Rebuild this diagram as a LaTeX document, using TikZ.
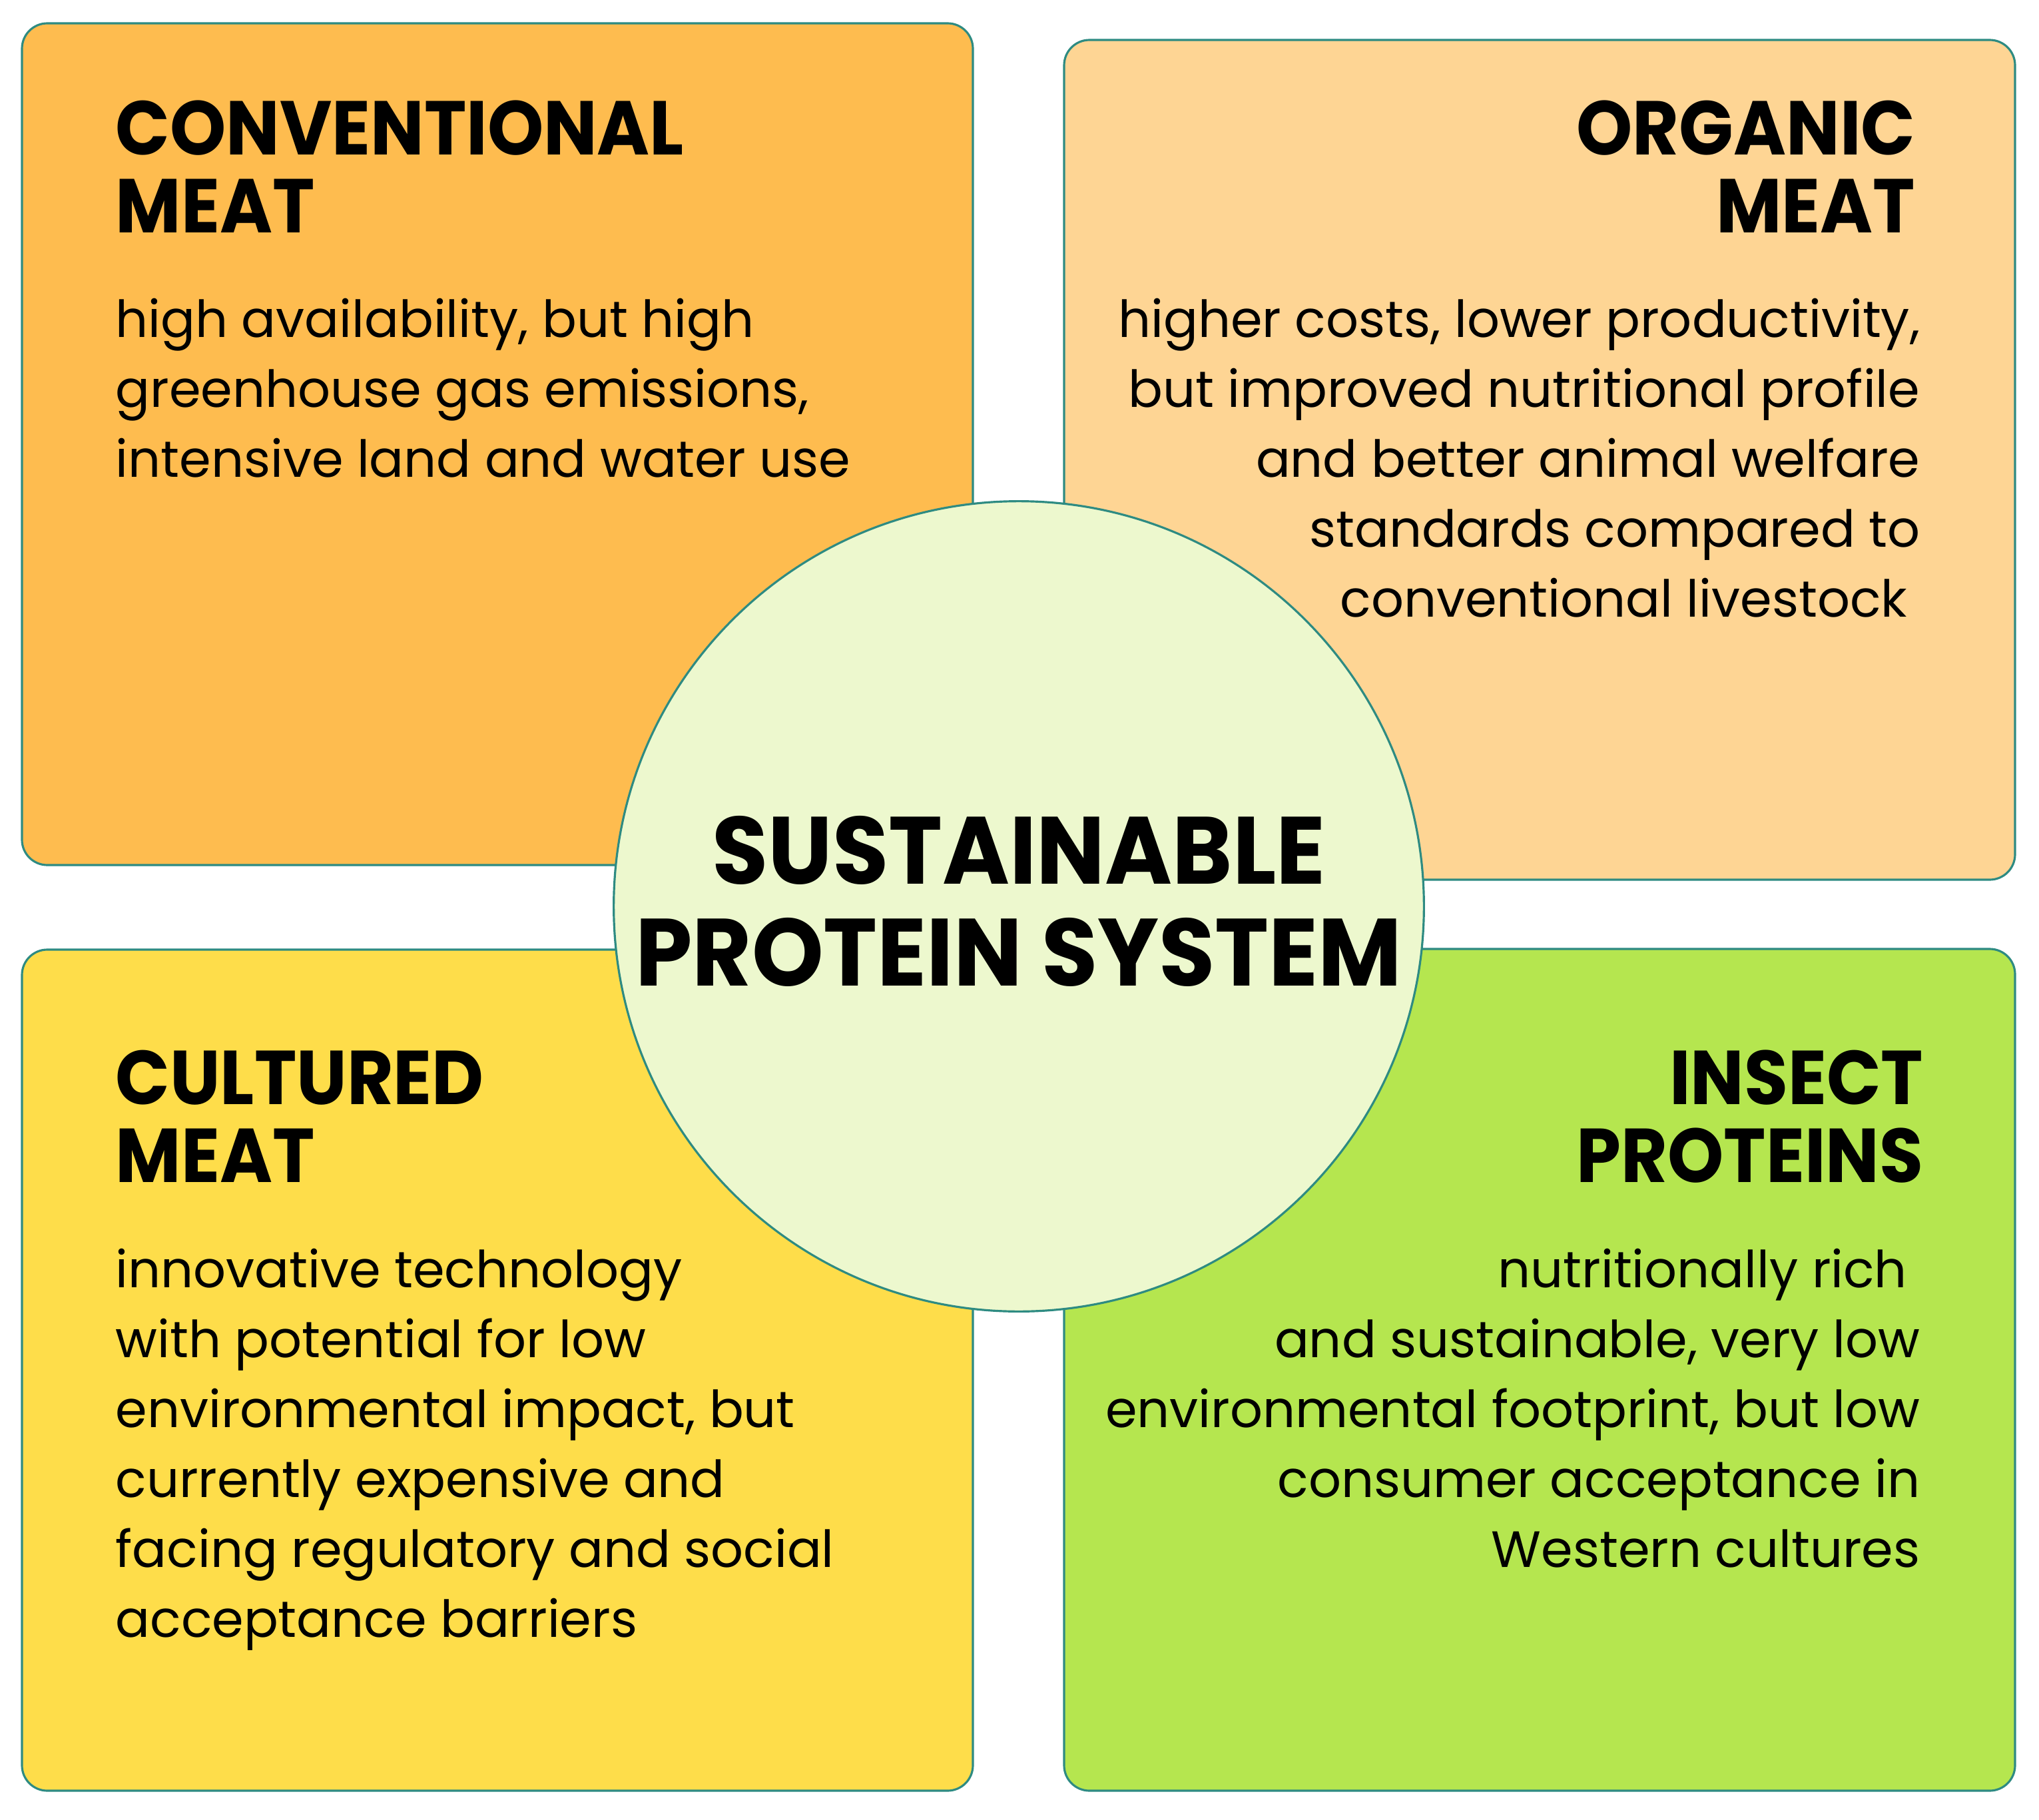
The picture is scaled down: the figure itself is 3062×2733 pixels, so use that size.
\documentclass[tikz,border=0pt]{standalone}
\usepackage{fontspec}
\setmainfont{Poppins}
\newfontfamily\ttlfont{Poppins}[FakeStretch=0.935]
\newfontfamily\hubfont{Poppins}[FakeStretch=0.955]
\definecolor{bordc}{HTML}{2E8B82}
\definecolor{cTL}{HTML}{FEBC4F}
\definecolor{cTR}{HTML}{FED594}
\definecolor{cBL}{HTML}{FEDD4A}
\definecolor{cBR}{HTML}{B5E64F}
\definecolor{cC}{HTML}{EDF8CE}
\tikzset{
  panel/.style={draw=bordc, line width=0.9pt, rounded corners=0.38cm},
  ttl/.style={inner sep=0pt, font=\ttlfont\bfseries\fontsize{32.6}{33.3}\selectfont},
  body/.style={inner sep=0pt, font=\fontsize{21.8}{29.9}\selectfont},
  centertext/.style={inner sep=0pt, align=center, font=\hubfont\bfseries\fontsize{40.8}{43.5}\selectfont}
}
\begin{document}
\begin{tikzpicture}[x=0.01cm, y=-0.01cm]
\useasboundingbox (0,0) rectangle (3062,2733);
\fill[white] (0,0) rectangle (3062,2733);
% panels
\path[panel, fill=cTL] (33,35) rectangle (1461,1299);
\path[panel, fill=cTR] (1598,60) rectangle (3026,1321);
\path[panel, fill=cBL] (33,1426) rectangle (1461,2689);
\path[panel, fill=cBR] (1598,1425) rectangle (3026,2689);
% centre circle
\node[circle, draw=bordc, line width=0.9pt, fill=cC, minimum size=12.16cm, inner sep=0pt] (hub) at (1530,1361) {};
% top-left
\node[ttl, anchor=north west, align=left] (tlT) at (173,150) {CONVENTIONAL\\MEAT};
\node[body, anchor=north west, align=left] (tlB) at (173,447) {high availability, but high\\greenhouse gas emissions,\\intensive land and water use};
% top-right
\node[ttl, anchor=north east, align=right] (trT) at (2877,150) {ORGANIC\\MEAT};
\node[body, anchor=north east, align=right] (trB) at (2884,447) {higher costs, lower productivity,\\but improved nutritional profile\\and better animal welfare\\standards compared to\\conventional livestock\hspace*{0.25em}};
% bottom-left
\node[ttl, anchor=north west, align=left] (blT) at (173,1576) {CULTURED\\MEAT};
\node[body, anchor=north west, align=left] (blB) at (173,1874) {innovative technology\\with potential for low\\environmental impact, but\\currently expensive and\\facing regulatory and social\\acceptance barriers};
% bottom-right
\node[ttl, anchor=north east, align=right] (brT) at (2889,1576) {INSECT\\PROTEINS};
\node[body, anchor=north east, align=right] (brB) at (2884,1874) {nutritionally rich\hspace*{0.25em}\\and sustainable, very low\\environmental footprint, but low\\consumer acceptance in\\Western cultures};
% centre text
\node[centertext, anchor=north] (hubT) at (1530,1225) {SUSTAINABLE\\PROTEIN SYSTEM};
\end{tikzpicture}
\end{document}
